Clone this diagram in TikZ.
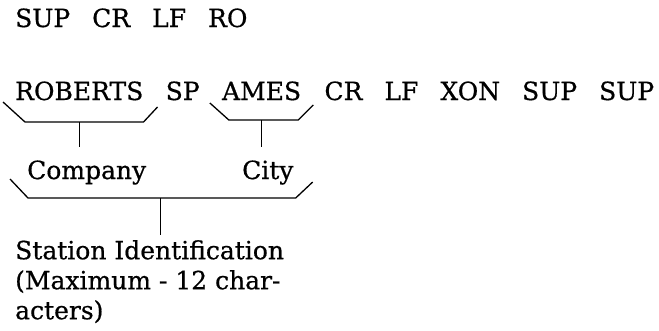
\documentclass[tikz,border=0pt]{standalone}
\usepackage{fontspec}
\setmainfont{DejaVu Serif}[FakeBold=0.6]
\usetikzlibrary{positioning,calc}

\begin{document}
\begin{tikzpicture}[x=1pt, y=-1pt,
    % text and line styles
    word/.style={inner sep=0pt, anchor=base west, font=\fontsize{25}{30}\selectfont,
        execute at begin node={\spaceskip=22pt\relax}},
    label/.style={inner sep=0pt, font=\fontsize{25}{30}\selectfont},
    brace/.style={draw=black, line width=1.3pt, line join=miter},
    stem/.style={draw=black, line width=0.9pt}
]
\useasboundingbox (0,0) rectangle (659,330);

% ====================
% control sequence
% ====================
\node[word] (head) at (15,27) {SUP CR LF RO};

\node[word] (rob) at (15,100) {ROBERTS};
\node[word, base right=22pt of rob] (sp) {SP};
\node[word, base right=22pt of sp] (ames) {AMES};
\node[word, base right=23pt of ames] (tail) {CR LF XON SUP SUP};

% ====================
% first level braces
% ====================
\draw[brace] ($(rob.base west)+(-12,2)$) -- ++(22,20) -- ($(rob.base east)+(0,22)$) -- ++(14,-15);
\coordinate (robtip) at ($(rob.base)+(0,22)$);
\draw[brace] ($(ames.base west)+(-12,3)$) -- ++(19,17) -- ($(ames.base east)+(-3,20)$) -- ++(15,-15);
\coordinate (amestip) at ($(ames.base)+(0,20)$);

\node[label, anchor=base west] (comp) at (27,179) {Company};
\node[label, anchor=base west] (city) at (242,179) {City};

\draw[stem, shorten >=13pt] (robtip) -- (robtip |- comp.north);
\draw[stem, shorten >=13pt] (amestip) -- (amestip |- city.north);

% ====================
% second level brace
% ====================
\draw[brace] ($(comp.base west)+(-17,0)$) -- ++(18,19) -- ($(city.base east)+(2,19)$) -- ++(17,-16);
\coordinate (stntip) at ($(comp.base west)!0.5!(city.base east)+(0,19)$);

\node[label, anchor=north west, align=left] (stn) at (15,240)
    {Station Identification\\(Maximum - 12 char-\\acters)};

\draw[stem, shorten >=5pt] (stntip) -- (stntip |- stn.north);

\end{tikzpicture}
\end{document}
